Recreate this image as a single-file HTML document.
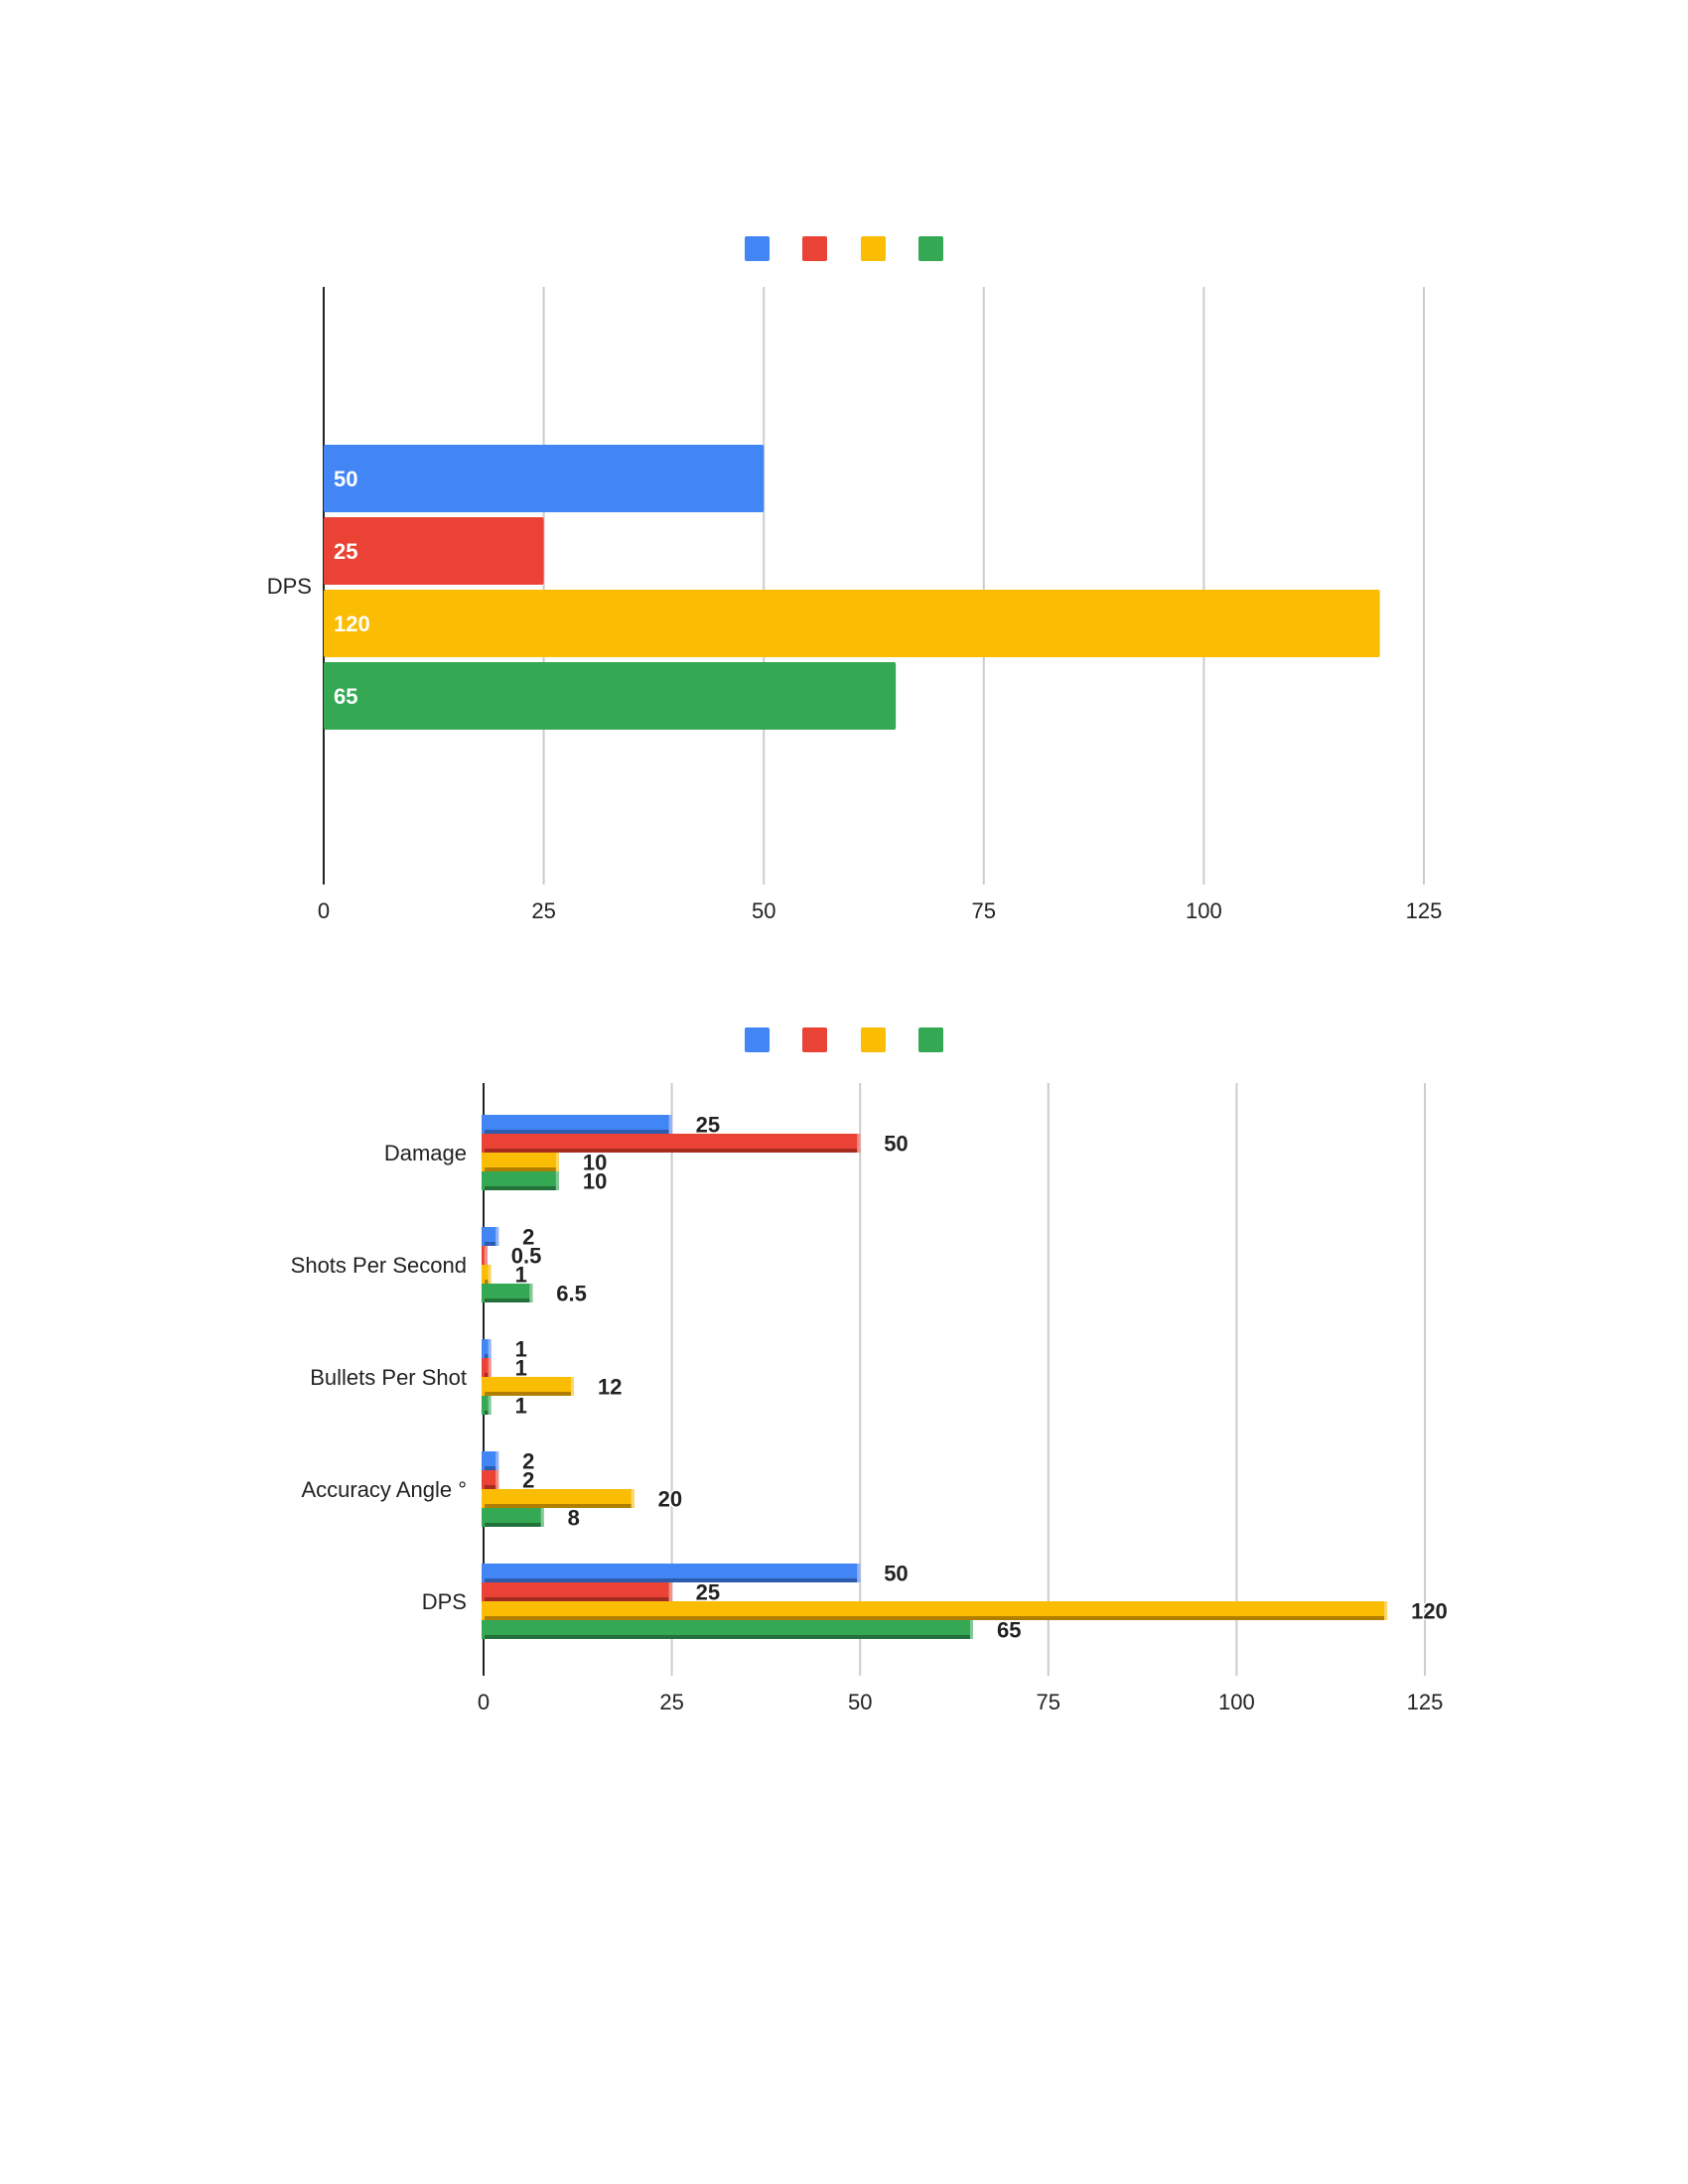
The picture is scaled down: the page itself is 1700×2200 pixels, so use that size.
<!DOCTYPE html>
<html><head><meta charset="utf-8"><style>
html,body{margin:0;padding:0;background:#fff;}
svg{display:block;font-family:"Liberation Sans",Arial,sans-serif;}
</style></head><body>
<svg id="root" width="1700" height="2200" viewBox="0 0 1700 2200" xmlns="http://www.w3.org/2000/svg">
<g id="c1"></g>
<g id="c2"></g>
</svg>
<script>
const colors = ["#4285F4","#EA4335","#FBBC04","#34A853"];
const darks = ["#2d5cae","#a52a20","#b07e00","#22713a"];
const lights = ["#8fb4f8","#f29088","#fcd667","#85c99a"];
const seriesNames = ["series-1","series-2","series-3","series-4"];
const ticks = [0,25,50,75,100,125];
const c1Categories = ["DPS"];
const c1Values = [[50],[25],[120],[65]];
const c2Categories = ["Damage","Shots Per Second","Bullets Per Shot","Accuracy Angle °","DPS"];
const c2Values = [[25,2,1,2,50],[50,0.5,1,2,25],[10,1,12,20,120],[10,6.5,1,8,65]];
const NS="http://www.w3.org/2000/svg";
function mk(p,tag,a){const e=document.createElementNS(NS,tag);for(const k in a)e.setAttribute(k,a[k]);p.appendChild(e);return e;}
function legend(g,y){
  const xs=[750,808,867,925];
  for(let i=0;i<4;i++){
    const r=mk(g,"rect",{x:xs[i],y:y,width:25,height:25,rx:2,fill:colors[i]});
    
    
  }
}
function axes(g,x0,x1,top,bot,tickY){
  const sx=v=>x0+(x1-x0)*v/125;
  ticks.forEach(t=>{
    if(t>0){const l=mk(g,"line",{x1:sx(t),x2:sx(t),y1:top,y2:bot,stroke:"#cccccc","stroke-width":2});
      
      }
    const tx=mk(g,"text",{x:sx(t),y:tickY,"text-anchor":"middle","font-size":22,fill:"#222"});
    tx.textContent=t;
    
    
  });
  const ax=mk(g,"line",{x1:x0,x2:x0,y1:top,y2:bot,stroke:"#222","stroke-width":2});
  
  
  return sx;
}
// Chart 1
(function(){
  const g=document.getElementById("c1");
  legend(g,238);
  const x0=326,x1=1434;
  const sx=axes(g,x0,x1,289,891,925);
  const bandTop=448,step=73,h=68;
  c1Categories.forEach((c,ci)=>{
    const l=mk(g,"text",{x:314,y:598,"text-anchor":"end","font-size":22,fill:"#222"});
    l.textContent=c;
    
    
    for(let s=0;s<4;s++){
      const v=c1Values[s][ci];const y=bandTop+s*step;
      const r=mk(g,"rect",{x:x0,y:y,width:sx(v)-x0,height:h,rx:2,fill:colors[s]});
      
      
      const t=mk(g,"text",{x:x0+10,y:y+h/2+8,"font-size":22,"font-weight":"bold",fill:"#fff"});
      t.textContent=v;
      
      
    }
  });
})();
// Chart 2
(function(){
  const g=document.getElementById("c2");
  legend(g,1035);
  const x0=487,x1=1435;
  const sx=axes(g,x0,x1,1091,1688,1722);
  const centers0=1161,gstep=113,bh=19;
  c2Categories.forEach((c,ci)=>{
    const cy=centers0+ci*gstep;
    const l=mk(g,"text",{x:470,y:cy+8,"text-anchor":"end","font-size":22,fill:"#222"});
    l.textContent=c;
    
    
    for(let s=0;s<4;s++){
      const v=c2Values[s][ci];const y=cy-2*bh+s*bh;
      const w=Math.max(sx(v)-485,3);
      const r=mk(g,"rect",{x:485,y:y,width:w,height:bh,fill:colors[s]});
      
      
      const d=mk(g,"rect",{x:488,y:y+bh-4,width:Math.max(w-3,0),height:4,fill:darks[s]});
      
      
      const e=mk(g,"rect",{x:485+w-3,y:y,width:3,height:bh,fill:lights[s]});
      
      
      const t=mk(g,"text",{x:485+w+24,y:y+bh/2+8,"font-size":22,"font-weight":"bold",fill:"#222",stroke:"#fff","stroke-width":3,"paint-order":"stroke"});
      t.textContent=v;
      
      
    }
  });
})();
</script>
</body></html>
